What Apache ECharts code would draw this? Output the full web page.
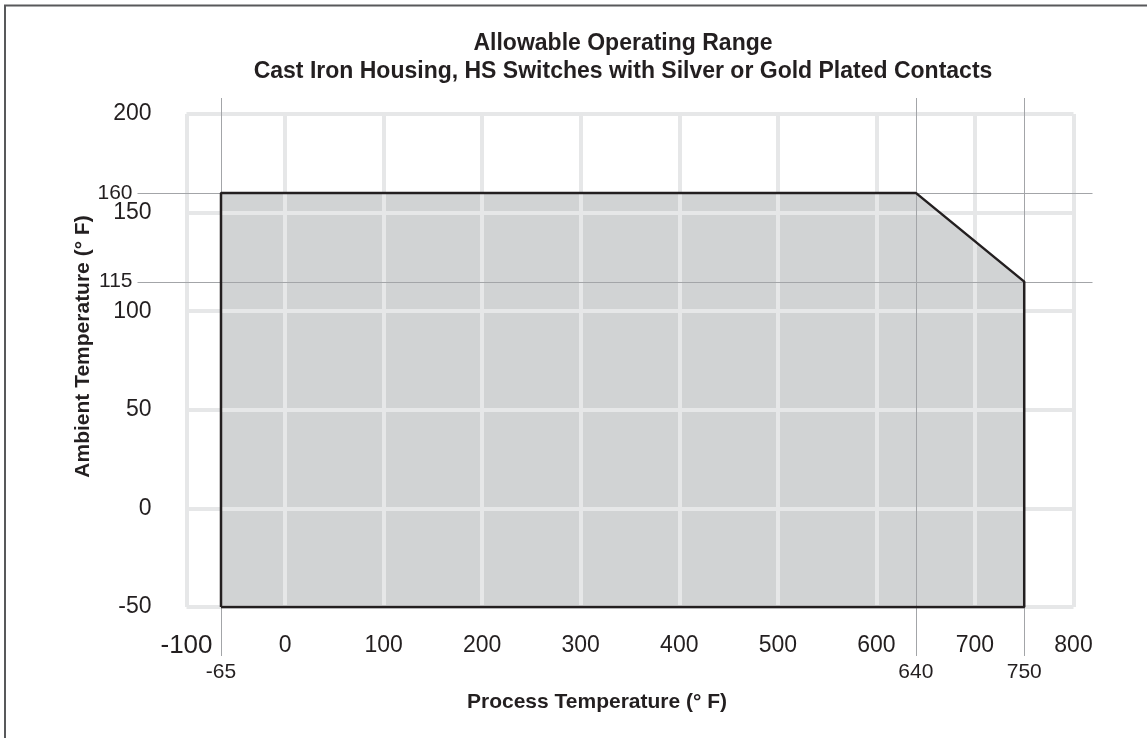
<!DOCTYPE html>
<html><head><meta charset="utf-8">
<script src="https://cdn.jsdelivr.net/npm/echarts@6/dist/echarts.min.js"></script>
<style>html,body{margin:0;padding:0;background:#fff}#c{width:1147px;height:738px}</style>
</head><body><div id="c"></div>
<script>
// ---- data ----
const titleLines = ['Allowable Operating Range', 'Cast Iron Housing, HS Switches with Silver or Gold Plated Contacts'];
const xName = 'Process Temperature (° F)';
const yName = 'Ambient Temperature (° F)';
const xTickValues = [-100, 0, 100, 200, 300, 400, 500, 600, 700, 800];
const yTickValues = [-50, 0, 50, 100, 150, 200];
// allowable range polygon (process temp, ambient temp)
const rangeX = [-65, -65, 640, 750, 750];
const rangeY = [-50, 160, 160, 115, -50];
// guide lines with their own labels
const guideX = [-65, 640, 750];
const guideY = [160, 115];

// ---- styling ----
const FONT = '"Liberation Sans", Arial, Helvetica, sans-serif';
const TXT = '#231f20';
const GRIDC = '#e6e7e8';
const GUIDEC = '#a3a5a8';

const xMin = xTickValues[0], xMax = xTickValues[xTickValues.length - 1];
const yMin = yTickValues[0], yMax = yTickValues[yTickValues.length - 1];
const xInt = xTickValues[1] - xTickValues[0];
const yInt = yTickValues[1] - yTickValues[0];

const chart = echarts.init(document.getElementById('c'), null, {renderer: 'canvas'});
const outline = rangeX.map((x, i) => [x, rangeY[i]]);
outline.push([rangeX[0], rangeY[0]]);

chart.setOption({
  animation: false,
  backgroundColor: '#fff',
  title: {
    text: titleLines.join('\n'),
    left: 623, top: 30, textAlign: 'center', padding: 0,
    textStyle: {fontFamily: FONT, fontSize: 23, fontWeight: 'bold', color: TXT, lineHeight: 28}
  },
  graphic: [{
    type: 'polyline', silent: true,
    shape: {points: [[5, 738], [5, 5.5], [1147, 5.5]]},
    style: {stroke: '#58595b', lineWidth: 2, fill: null}
  }],
  grid: {left: 186.5, right: 73.5, top: 114, bottom: 131, containLabel: false},
  xAxis: {
    type: 'value', min: xMin, max: xMax, interval: xInt, z: 1,
    name: xName, nameLocation: 'middle', nameGap: 85,
    nameTextStyle: {fontFamily: FONT, fontSize: 21, fontWeight: 'bold', color: TXT, padding: [0, 66, 0, 0]},
    axisLine: {show: false}, axisTick: {show: false},
    axisLabel: {
      fontFamily: FONT, fontSize: 23, color: TXT, margin: 27,
      formatter: v => v === xMin ? '{big|' + v + '}' : String(v),
      rich: {big: {fontFamily: FONT, fontSize: 26, color: TXT, lineHeight: 23}}
    },
    splitLine: {show: true, lineStyle: {color: GRIDC, width: 4}}
  },
  yAxis: {
    type: 'value', min: yMin, max: yMax, interval: yInt, z: 1,
    name: yName, nameLocation: 'middle', nameGap: 93,
    nameTextStyle: {fontFamily: FONT, fontSize: 21, fontWeight: 'bold', color: TXT, padding: [0, 0, 0, 28]},
    axisLine: {show: false}, axisTick: {show: false},
    axisLabel: {fontFamily: FONT, fontSize: 23, color: TXT, margin: 35},
    splitLine: {show: true, lineStyle: {color: GRIDC, width: 4}}
  },
  series: [
    {
      type: 'custom', z: 0, silent: true, clip: false,
      data: rangeX.map((x, i) => [x, rangeY[i]]),
      renderItem: (params, api) => {
        if (params.dataIndex !== 0) return null;
        const pts = rangeX.map((x, i) => api.coord([x, rangeY[i]]));
        return {type: 'polygon', shape: {points: pts}, style: {fill: '#d1d3d4'}};
      }
    },
    {
      type: 'custom', z: 3, silent: true, clip: false,
      data: guideX.map(x => [x, yMin]),
      renderItem: (params, api) => {
        const v = api.value(0);
        const top = api.coord([v, yMax]);
        const bot = api.coord([v, yMin]);
        const px = Math.round(top[0]) + 0.5;
        return {type: 'group', children: [
          {type: 'line', shape: {x1: px, y1: top[1] - 16, x2: px, y2: bot[1] + 49},
           style: {stroke: GUIDEC, lineWidth: 1}},
          {type: 'text', style: {text: String(v), x: bot[0], y: bot[1] + 65, align: 'center', verticalAlign: 'middle',
           fontSize: 21, fontFamily: FONT, fill: TXT}}
        ]};
      }
    },
    {
      type: 'custom', z: 3, silent: true, clip: false,
      data: guideY.map(y => [xMin, y]),
      renderItem: (params, api) => {
        const v = api.value(1);
        const l = api.coord([xMin, v]);
        const r = api.coord([xMax, v]);
        const py = Math.round(l[1]) + 0.5;
        return {type: 'group', children: [
          {type: 'line', shape: {x1: l[0] - 49, y1: py, x2: r[0] + 19, y2: py},
           style: {stroke: GUIDEC, lineWidth: 1}},
          {type: 'text', style: {text: String(v), x: l[0] - 54, y: l[1], align: 'right', verticalAlign: 'middle',
           fontSize: 21, fontFamily: FONT, fill: TXT}}
        ]};
      }
    },
    {
      type: 'line', z: 4, silent: true, clip: false,
      data: outline, symbol: 'none',
      lineStyle: {color: TXT, width: 2.5}
    }
  ]
});
</script>
</body></html>
